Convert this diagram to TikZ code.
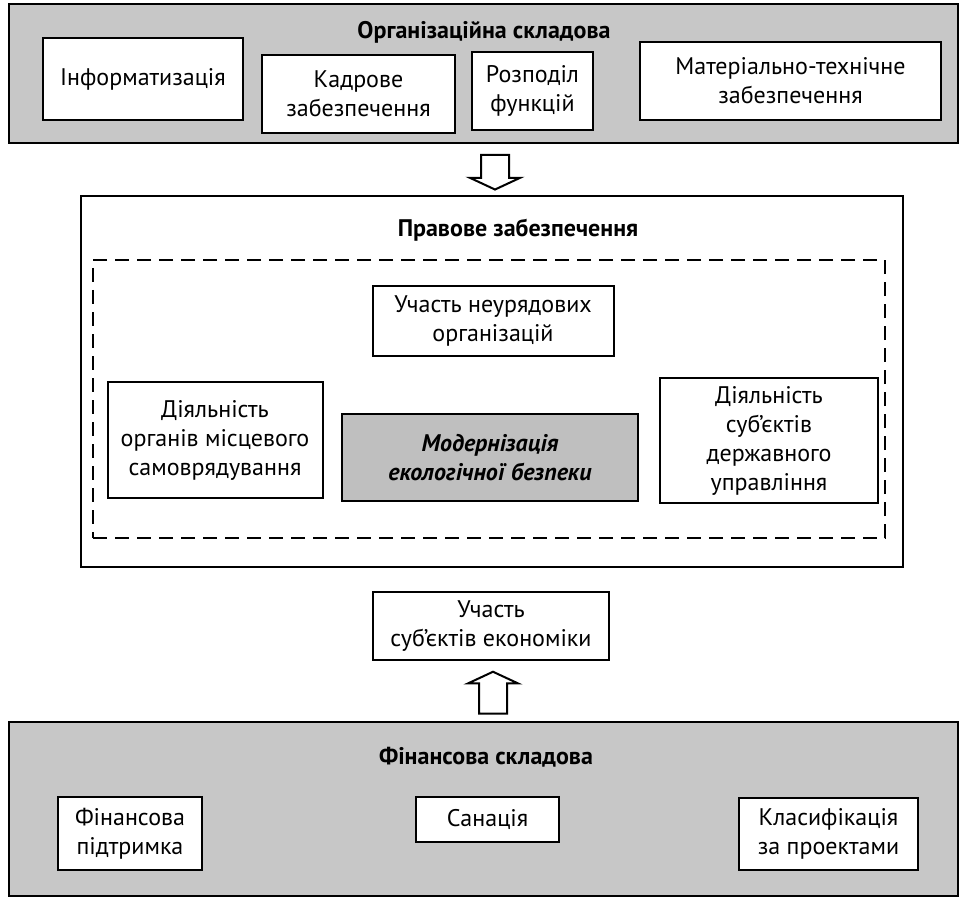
\documentclass[tikz,border=0pt]{standalone}
\usepackage{fontspec}
\setmainfont{PT Sans}
\usetikzlibrary{shapes.arrows}

\begin{document}
\begin{tikzpicture}[x=0.5pt, y=-0.5pt,
  every node/.style = {align=center, font=\fontsize{12}{14.5}\selectfont},
  band/.style = {draw, line width=1.3pt, fill=black!22, inner sep=0pt},
  frame/.style = {draw, line width=1.2pt, fill=white, inner sep=0pt},
  block/.style = {draw, line width=1pt, fill=white, inner sep=0pt},
  heading/.style = {font=\fontsize{12}{14.5}\selectfont\bfseries},
  flow/.style = {draw, line width=1pt, fill=white, single arrow, inner sep=6.5pt,
    single arrow tip angle=130, single arrow head extend=5.5pt, minimum width=24pt}]
  \useasboundingbox (0,0) rectangle (961,898);

  \node[band, minimum width=474.5pt, minimum height=69.5pt] (orgband) at (483.5,73.5) {};
  \node[heading] (orgtitle) at (484,32) {Організаційна складова};
  \node[block, minimum width=100pt, minimum height=41pt] (inform) at (143,79) {Інформатизація};
  \node[block, minimum width=96.5pt, minimum height=39pt] (kadry) at (358.5,94) {Кадрове\\забезпечення};
  \node[block, minimum width=60.5pt, minimum height=39pt] (rozpodil) at (532.5,91) {Розподіл\\функцій};
  \node[block, minimum width=150.5pt, minimum height=39pt] (mater) at (790.5,81) {Матеріально-технічне\\забезпечення};

  \node[flow, shape border rotate=270, minimum height=17pt] (arrdown) at (495,169) {};

  \node[frame, minimum width=411pt, minimum height=185.5pt] (pravbox) at (492,381.5) {};
  \node[heading] (pravtitle) at (518,230) {Правове забезпечення};
  \node[draw, line width=1.4pt, dash pattern=on 7pt off 4pt, inner sep=0pt,
    minimum width=396pt, minimum height=139pt] (dashbox) at (489,399) {};
  \node[block, minimum width=120.5pt, minimum height=35pt] (neuriad) at (493,321) {Участь неурядових\\організацій};
  \node[block, minimum width=107.5pt, minimum height=58pt] (mistsev) at (215,440) {Діяльність\\органів місцевого\\самоврядування};
  \node[block, fill=black!25, minimum width=148pt, minimum height=43.5pt,
    font=\fontsize{12}{14.5}\selectfont\bfseries\itshape] (modern) at (490,457.5) {Модернізація\\екологічної безпеки};
  \node[block, minimum width=109pt, minimum height=62.5pt] (derzh) at (769,440.5) {Діяльність\\суб’єктів\\державного\\управління};

  \node[block, minimum width=118pt, minimum height=34pt] (ekon) at (491,626) {Участь\\суб’єктів економіки};
  \node[flow, shape border rotate=90, minimum height=21pt] (arrup) at (493,696) {};

  \node[band, minimum width=474.5pt, minimum height=87pt] (finband) at (483.5,809) {};
  \node[heading] (fintitle) at (486,757) {Фінансова складова};
  \node[block, minimum width=72pt, minimum height=36.5pt] (pidtr) at (130,833.5) {Фінансова\\підтримка};
  \node[block, minimum width=71.5pt, minimum height=22.5pt] (sanac) at (487.5,819.5) {Санація};
  \node[block, minimum width=89.5pt, minimum height=36pt] (klas) at (828.5,834) {Класифікація\\за проектами};
\end{tikzpicture}
\end{document}
